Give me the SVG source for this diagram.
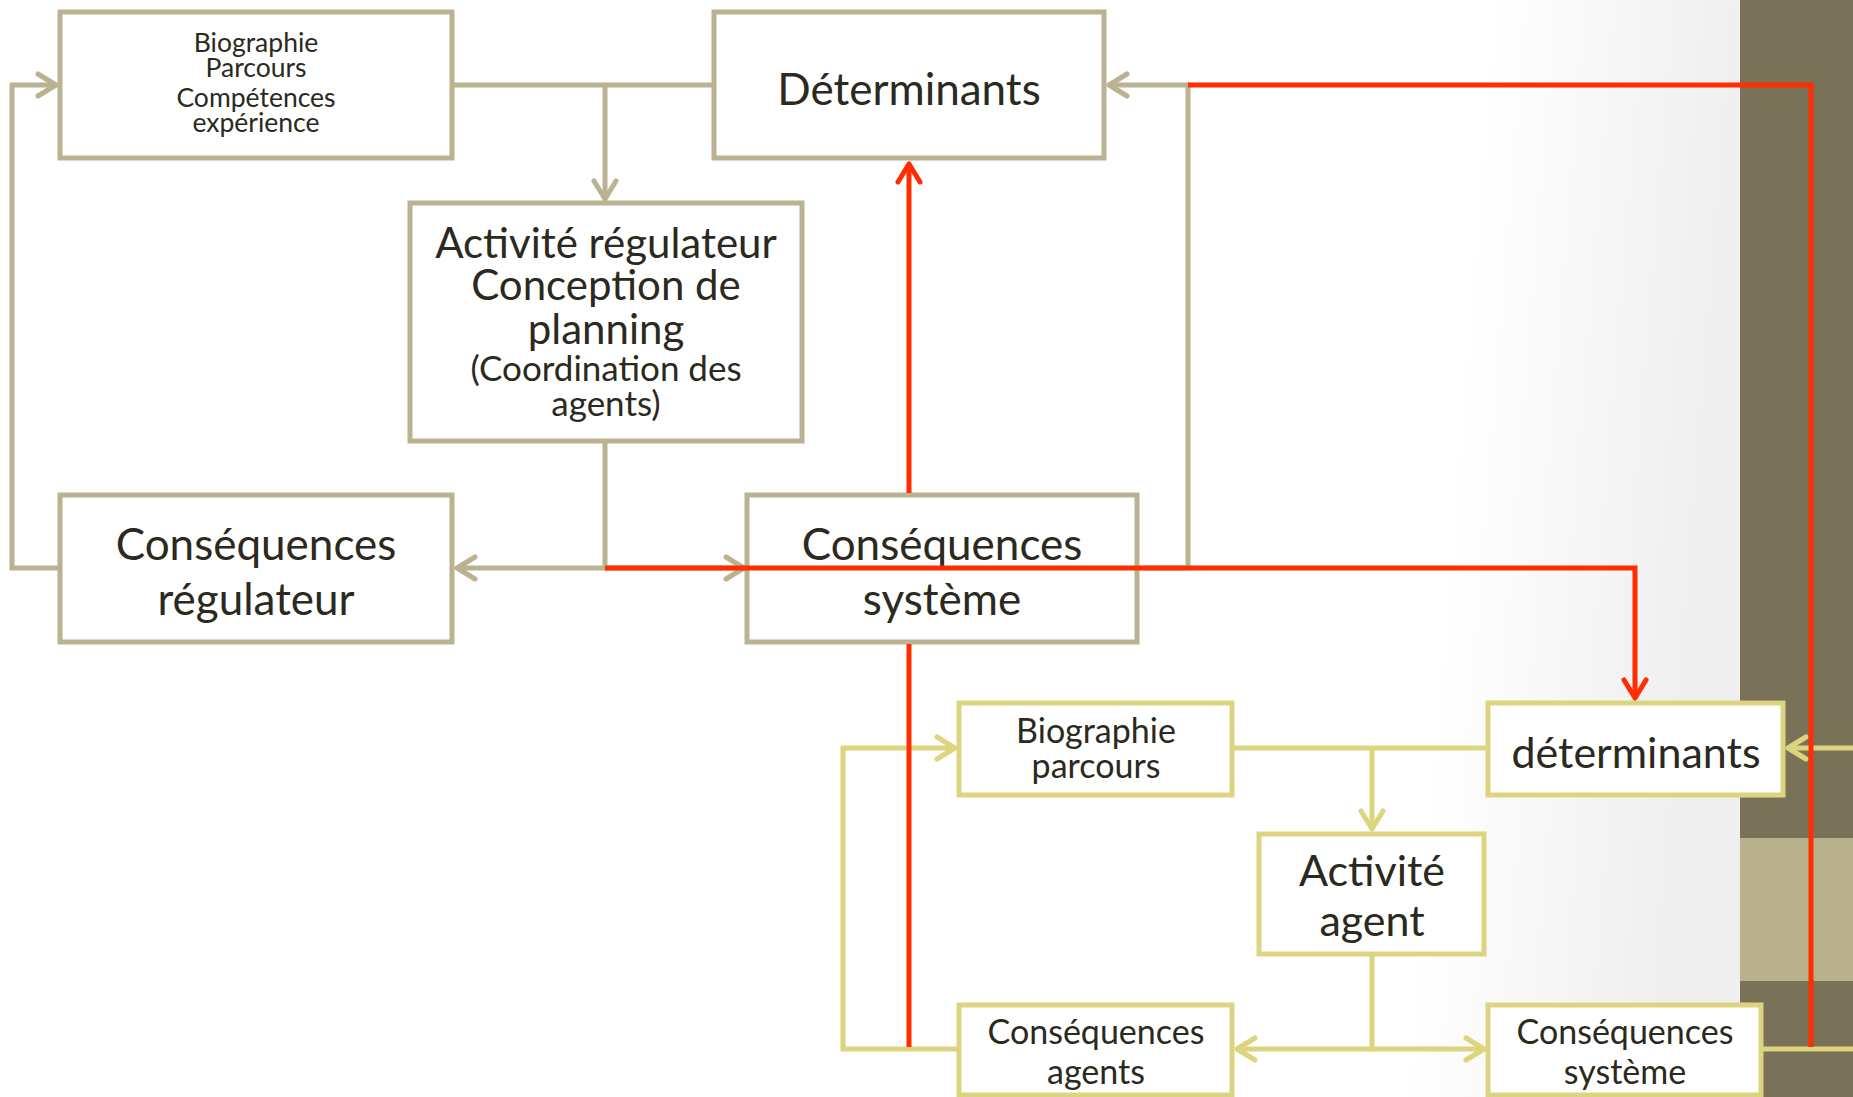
<svg xmlns="http://www.w3.org/2000/svg" width="1853" height="1097" viewBox="0 0 1853 1097">
<defs>
<linearGradient id="bg" gradientUnits="userSpaceOnUse" x1="1490" y1="0" x2="1740" y2="20">
<stop offset="0" stop-color="#FFFFFF"/>
<stop offset="1" stop-color="#EFEFEF"/>
</linearGradient>
<marker id="ag" markerUnits="userSpaceOnUse" orient="auto" overflow="visible" refX="0" refY="0" markerWidth="1" markerHeight="1"><path d="M-18,-11 L0,0 L-18,11" fill="none" stroke="#BAB290" stroke-width="5" stroke-linecap="round" stroke-linejoin="round"/></marker>
<marker id="ar" markerUnits="userSpaceOnUse" orient="auto" overflow="visible" refX="0" refY="0" markerWidth="1" markerHeight="1"><path d="M-18,-11 L0,0 L-18,11" fill="none" stroke="#FF2D00" stroke-width="5" stroke-linecap="round" stroke-linejoin="round"/></marker>
<marker id="ay" markerUnits="userSpaceOnUse" orient="auto" overflow="visible" refX="0" refY="0" markerWidth="1" markerHeight="1"><path d="M-18,-11 L0,0 L-18,11" fill="none" stroke="#DDD47F" stroke-width="5" stroke-linecap="round" stroke-linejoin="round"/></marker>
</defs>
<style>
.ng rect{fill:#FFFFFF;stroke:#BAB290;stroke-width:5}
.ny rect{fill:#FFFFFF;stroke:#DDD47F;stroke-width:5}
text{font-family:Lato,"Liberation Sans",sans-serif;fill:#2B2920;text-anchor:middle}
.s{font-size:26.5px}
.m{font-size:34px}
.mm{font-size:35px}
.l{font-size:43px}
.xl{font-size:44px}
.lr{font-size:42px}
.cg{fill:none;stroke:#BAB290;stroke-width:5}
.cr{fill:none;stroke:#FF2D00;stroke-width:5}
.cy{fill:none;stroke:#DDD47F;stroke-width:5}
</style>
<rect x="0" y="0" width="1853" height="1097" fill="url(#bg)"/>
<rect x="1740" y="0" width="113" height="1097" fill="#7A7258"/>
<rect x="1740" y="838" width="113" height="143" fill="#B8B18C"/>

<g id="n-biographie-regulateur" class="ng">
<rect x="60" y="12" width="392" height="146"/>
<text class="s" x="256" y="52">Biographie</text>
<text class="s" x="256" y="77">Parcours</text>
<text class="s" x="256" y="107">Compétences</text>
<text class="s" x="256" y="132">expérience</text>
</g>
<g id="n-determinants" class="ng">
<rect x="714" y="12" width="390" height="146"/>
<text class="xl" x="909" y="105">Déterminants</text>
</g>
<g id="n-activite-regulateur" class="ng">
<rect x="410" y="203" width="392" height="238"/>
<text class="lr" x="606" y="258">Activité régulateur</text>
<text class="lr" x="606" y="300">Conception de</text>
<text class="lr" x="606" y="344">planning</text>
<text class="mm" x="606" y="381">(Coordination des</text>
<text class="mm" x="606" y="416">agents)</text>
</g>
<g id="n-consequences-regulateur" class="ng">
<rect x="60" y="495" width="392" height="147"/>
<text class="xl" x="256" y="560">Conséquences</text>
<text class="xl" x="256" y="615">régulateur</text>
</g>
<g id="n-consequences-systeme" class="ng">
<rect x="747" y="495" width="390" height="147"/>
<text class="xl" x="942" y="560">Conséquences</text>
<text class="xl" x="942" y="615">système</text>
</g>
<g id="n-biographie-agent" class="ny">
<rect x="959" y="703" width="273" height="92"/>
<text class="m" x="1096" y="743">Biographie</text>
<text class="m" x="1096" y="778">parcours</text>
</g>
<g id="n-determinants-agent" class="ny">
<rect x="1488" y="703" width="295" height="92"/>
<text class="l" x="1636" y="768">déterminants</text>
</g>
<g id="n-activite-agent" class="ny">
<rect x="1259" y="834" width="225" height="120"/>
<text class="l" x="1372" y="886">Activité</text>
<text class="l" x="1372" y="936">agent</text>
</g>
<g id="n-consequences-agents" class="ny">
<rect x="959" y="1005" width="273" height="90"/>
<text class="m" x="1096" y="1044">Conséquences</text>
<text class="m" x="1096" y="1084">agents</text>
</g>
<g id="n-consequences-systeme-agent" class="ny">
<rect x="1488" y="1005" width="273" height="90"/>
<text class="m" x="1625" y="1044">Conséquences</text>
<text class="m" x="1625" y="1084">système</text>
</g>

<g id="connectors">
<path class="cg" d="M452,85 H714"/>
<path class="cg" d="M605,85 V199" marker-end="url(#ag)"/>
<path class="cg" d="M605,441 V568 H457" marker-end="url(#ag)"/>
<path class="cg" d="M605,568 H744" marker-end="url(#ag)"/>
<path class="cg" d="M60,568 H12 V85 H56" marker-end="url(#ag)"/>
<path class="cg" d="M1137,568 H1188 V85 H1109" marker-end="url(#ag)"/>
<path class="cy" d="M1232,748 H1488"/>
<path class="cy" d="M1372,748 V829" marker-end="url(#ay)"/>
<path class="cy" d="M1372,954 V1049 H1237" marker-end="url(#ay)"/>
<path class="cy" d="M1372,1049 H1484" marker-end="url(#ay)"/>
<path class="cy" d="M959,1049 H843 V748 H955" marker-end="url(#ay)"/>
<path class="cy" d="M1761,1049 H1853"/>
<path class="cy" d="M1853,748 H1788" marker-end="url(#ay)"/>
<path class="cr" d="M909,493 V164" marker-end="url(#ar)"/>
<path class="cr" d="M909,644 V1047"/>
<path class="cr" d="M1188,85 H1811 V1047"/>
<path class="cr" d="M605,568 H1635 V698" marker-end="url(#ar)"/>
</g>
</svg>
